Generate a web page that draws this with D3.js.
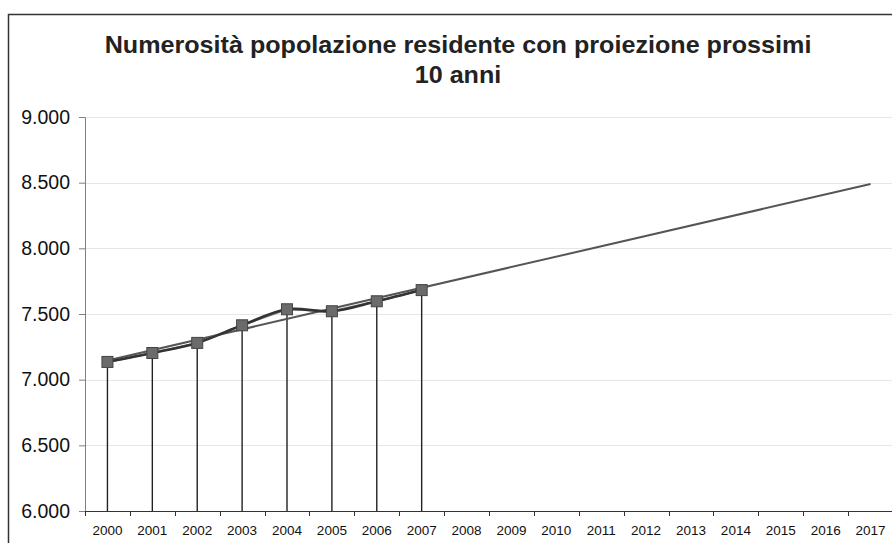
<!DOCTYPE html>
<html>
<head>
<meta charset="utf-8">
<script src="https://cdn.jsdelivr.net/npm/d3@7"></script>
<style>
  body { margin: 0; background: #fff; }
  svg { display: block; font-family: "Liberation Sans", Arial, sans-serif; }
</style>
</head>
<body>
<div id="chart"></div>
<script>
// data
const years = ["2000","2001","2002","2003","2004","2005","2006","2007","2008","2009",
               "2010","2011","2012","2013","2014","2015","2016","2017"];
const popYears = ["2000","2001","2002","2003","2004","2005","2006","2007"];
const popValues = [7135, 7203, 7280, 7414, 7536, 7521, 7597, 7682];
const trendYears = ["2000", "2017"];
const trendValues = [7146, 8490];
const yTicks = [6000, 6500, 7000, 7500, 8000, 8500, 9000];
const titleLines = ["Numerosità popolazione residente con proiezione prossimi", "10 anni"];

const W = 892, H = 543;
const margin = {top: 117, right: -1, bottom: 32, left: 85};
const width = W - margin.left - margin.right,
      height = H - margin.top - margin.bottom;

const svg = d3.select("#chart").append("svg")
    .attr("width", W)
    .attr("height", H);

// outer frame
svg.append("rect")
    .attr("x", 8.5).attr("y", 14.5)
    .attr("width", W).attr("height", H)
    .attr("fill", "none").attr("stroke", "#333").attr("stroke-width", 1.5);

// title (a bit wider than the plain font, like the original)
svg.append("g")
    .attr("transform", "translate(458,0) scale(1.07,1)")
  .selectAll("text")
  .data(titleLines)
  .join("text")
    .attr("x", 0)
    .attr("y", (d, i) => 53 + i * 30)
    .attr("text-anchor", "middle")
    .attr("font-size", 23.5)
    .attr("font-weight", "bold")
    .attr("fill", "#222")
    .text(d => d);

const g = svg.append("g")
    .attr("transform", `translate(${margin.left},${margin.top})`);

const x = d3.scaleBand().domain(years).range([0, width]);
const y = d3.scaleLinear().domain([6000, 9000]).range([height, 0]);
const cx = d => x(d) + x.bandwidth() / 2;

// gridlines
g.append("g")
  .selectAll("line")
  .data(yTicks.slice(1))
  .join("line")
    .attr("x1", 0).attr("x2", width)
    .attr("y1", d => Math.round(y(d)) + 0.5).attr("y2", d => Math.round(y(d)) + 0.5)
    .attr("stroke", "#e6e6e6");

// y axis
const yAxis = g.append("g")
    .call(d3.axisLeft(y).tickValues(yTicks).tickSize(6).tickPadding(9)
      .tickFormat(d => d3.format(",")(d).replace(",", ".")));
yAxis.select(".domain").attr("stroke", "#808080");
yAxis.selectAll(".tick line").attr("stroke", "#808080");
yAxis.selectAll("text").attr("font-size", 19.5).attr("fill", "#111")
    .attr("font-family", "Liberation Sans, Arial, sans-serif");

// x axis (ticks between categories)
const xAxis = g.append("g")
    .attr("transform", `translate(0,${height})`)
    .call(d3.axisBottom(x).tickSize(0).tickPadding(14));
xAxis.select(".domain").attr("stroke", "#333");
xAxis.selectAll("text").attr("font-size", 13.5).attr("fill", "#111")
    .attr("font-family", "Liberation Sans, Arial, sans-serif");
g.append("g")
  .selectAll("line")
  .data(years)
  .join("line")
    .attr("x1", d => Math.round(x(d)) + 0.5).attr("x2", d => Math.round(x(d)) + 0.5)
    .attr("y1", height).attr("y2", height + 5)
    .attr("stroke", "#333");

const pts = popYears.map((yr, i) => ({yr, v: popValues[i]}));

// drop lines
g.append("g")
  .selectAll("line")
  .data(pts)
  .join("line")
    .attr("x1", d => cx(d.yr)).attr("x2", d => cx(d.yr))
    .attr("y1", d => y(d.v)).attr("y2", height)
    .attr("stroke", "#222").attr("stroke-width", 1.4);

// trend line
g.append("path")
    .datum(trendYears.map((yr, i) => ({yr, v: trendValues[i]})))
    .attr("fill", "none")
    .attr("stroke", "#555")
    .attr("stroke-width", 2)
    .attr("d", d3.line().x(d => cx(d.yr)).y(d => y(d.v)));

// straight series line
g.append("path")
    .datum(pts)
    .attr("fill", "none")
    .attr("stroke", "#7a7a7a")
    .attr("stroke-width", 2)
    .attr("d", d3.line().x(d => cx(d.yr)).y(d => y(d.v)));

// smoothed series line
g.append("path")
    .datum(pts)
    .attr("fill", "none")
    .attr("stroke", "#333")
    .attr("stroke-width", 2.6)
    .attr("d", d3.line().curve(d3.curveCatmullRom.alpha(0.5)).x(d => cx(d.yr)).y(d => y(d.v)));

// markers
g.append("g")
  .selectAll("rect")
  .data(pts)
  .join("rect")
    .attr("x", d => cx(d.yr) - 5.5).attr("y", d => y(d.v) - 5.5)
    .attr("width", 11).attr("height", 11)
    .attr("fill", "#6b6b6b")
    .attr("stroke", "#444").attr("stroke-width", 1);
</script>
</body>
</html>
